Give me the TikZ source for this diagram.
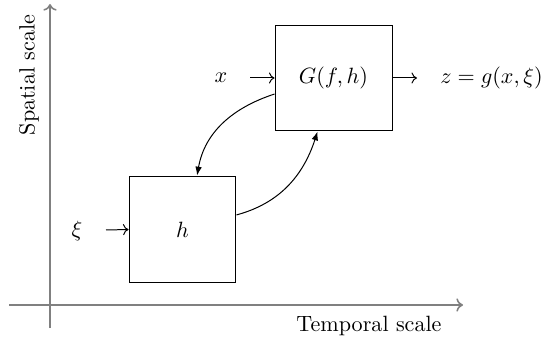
\documentclass[tikz,border=0pt]{standalone}
\usetikzlibrary{calc,arrows.meta}
\begin{document}
\begin{tikzpicture}[x=0.0159cm,y=-0.0159cm,
  axis/.style={draw=gray,line width=0.7pt,-{To[length=3pt,width=6pt]}},
  blk/.style={draw,line width=0.45pt,inner sep=0pt,minimum width=#1},
  inarrow/.style={-{To[length=2.5pt,width=5pt]},line width=0.45pt},
  feedback/.style={-{Latex[length=4pt,width=3pt]},line width=0.45pt}]
\useasboundingbox (0,0) rectangle (545,340);
% axes
\coordinate (yb) at (50,328);
\coordinate (yt) at (50,4);
\coordinate (xl) at (9,305);
\coordinate (xr) at (463,305);
\draw[axis] (yb) -- (yt);
\draw[axis] (xl) -- (xr);
\node[rotate=90] (ylab) at (29,75) {Spatial scale};
\node (xlab) at (369,326) {Temporal scale};
% blocks
\node[blk=1.70cm,minimum height=1.70cm] (h) at (182.5,229.5) {$h$};
\node[blk=1.86cm,minimum height=1.685cm] (G) at (333.5,78) {$G(f,h)$};
% inputs / outputs
\node (x) at (221,78) {$x$};
\coordinate (xa) at (250,78);
\draw[inarrow] (xa) -- (G.west);
\node (xi) at (77,231) {$\xi$};
\coordinate (xia) at (106,230);
\draw[inarrow] (xia) -- (h.west);
\coordinate (za) at (417,78);
\draw[inarrow] (G.east) -- (za);
\node (z) at (491.5,78) {$z=g(x,\xi)$};
% feedback curves
\draw[feedback] ($(G.west)!0.3!(G.south west)$) to[out=198,in=80] ($(h.north)!0.27!(h.north east)$);
\draw[feedback] ($(h.east)!0.27!(h.north east)$) to[out=15,in=-108] ($(G.south)!0.27!(G.south west)$);
\end{tikzpicture}
\end{document}
